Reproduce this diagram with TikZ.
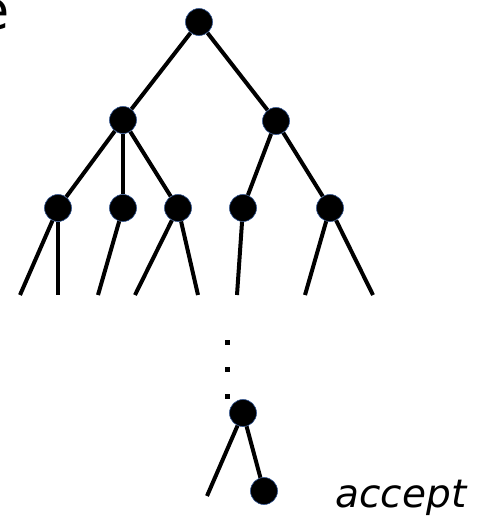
\documentclass[tikz,border=0pt]{standalone}
\usepackage{fontspec}
\setmainfont{DejaVu Sans}
\definecolor{rimblue}{RGB}{47,82,143}

\begin{document}
\begin{tikzpicture}[x=1pt,y=-1pt,
    vertex/.style={circle,fill=black,draw=rimblue,line width=0.6pt,inner sep=0pt,minimum size=27pt},
    branch/.style={line width=4pt},
    pip/.style={fill=black,inner sep=0pt,minimum size=5pt}]
    \useasboundingbox (0,0) rectangle (477,517);
    \node[anchor=base east,font=\fontsize{54}{60}\selectfont] (word) at (13,29) {e};
    % tree nodes
    \node[vertex] (root) at (199,22) {};
    \node[vertex] (L) at (123,120) {};
    \node[vertex] (R) at (276,121) {};
    \foreach \n/\x in {a/58,b/123,c/178,d/243,e/330} {
        \node[vertex] (\n) at (\x,208) {};
    }
    \foreach \p/\q in {root/L,root/R,L/a,L/b,L/c,R/d,R/e} {
        \draw[branch] (\p) -- (\q);
    }
    % open branches
    \foreach \n/\x in {a1/20,a2/58,b1/98,c1/135,c2/198,d1/237,e1/305,e2/373} {
        \coordinate (\n) at (\x,295);
    }
    \foreach \p/\q in {a/a1,a/a2,b/b1,c/c1,c/c2,d/d1,e/e1,e/e2} {
        \draw[branch] (\p) -- (\q);
    }
    % dots
    \foreach \i/\y in {1/342,2/369,3/396} {
        \node[pip] (dot\i) at (227,\y) {};
    }
    % last step
    \node[vertex] (f) at (243,413) {};
    \node[vertex] (g) at (264,491) {};
    \coordinate (f1) at (207,496);
    \draw[branch] (f) -- (f1);
    \draw[branch] (f) -- (g);
    \node[anchor=base west,font=\fontsize{39}{40}\selectfont\itshape] (acc) at (332,507) {accept};
\end{tikzpicture}
\end{document}
